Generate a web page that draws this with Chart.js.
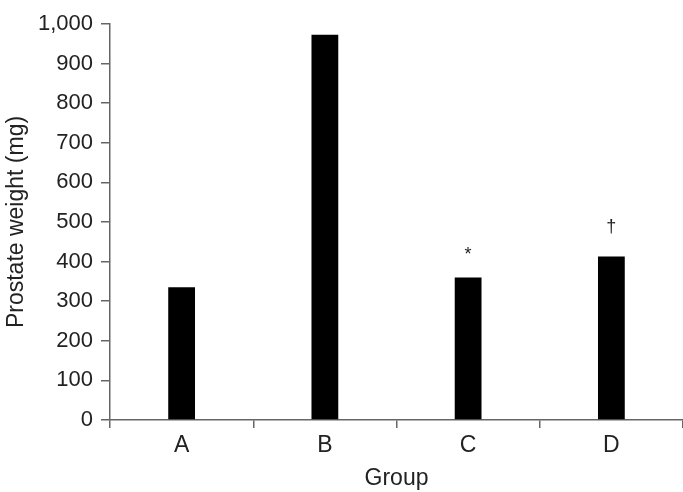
<!DOCTYPE html>
<html>
<head>
<meta charset="utf-8">
<script src="https://cdn.jsdelivr.net/npm/chart.js@4.4.1/dist/chart.umd.min.js"></script>
<style>
  html, body { margin: 0; padding: 0; background: #fff; }
  #wrap { width: 683px; height: 492px; position: relative; }
</style>
</head>
<body>
<div id="wrap"><canvas id="grafico"></canvas></div>
<script>
// Dados do gráfico
const grupos = ['A', 'B', 'C', 'D'];
const pesos = [335, 973, 360, 413];
const marcas = ['', '', '*', '\u2020'];
const yMin = 0;
const yMax = 1000;
const yPasso = 100;

const corTexto = '#222';
const corEixo = '#666';

// Desenha os símbolos (* e †) acima das barras
const marcasPlugin = {
    id: 'marcas',
    afterDatasetsDraw(chart) {
        const ctx = chart.ctx;
        const meta = chart.getDatasetMeta(0);
        ctx.save();
        ctx.fillStyle = corTexto;
        ctx.font = '18px "Liberation Sans", Arial, sans-serif';
        ctx.textAlign = 'center';
        ctx.textBaseline = 'middle';
        meta.data.forEach((bar, i) => {
            if (!marcas[i]) return;
            const off = marcas[i] === '*' ? 22 : 29;
            ctx.fillText(marcas[i], bar.x, bar.y - off);
        });
        ctx.restore();
    }
};

const ctx = document.getElementById('grafico').getContext('2d');
new Chart(ctx, {
    type: 'bar',
    data: {
        labels: grupos,
        datasets: [{
            data: pesos,
            backgroundColor: '#000',
            borderWidth: 0,
            barPercentage: 0.187,
            categoryPercentage: 1
        }]
    },
    options: {
        responsive: true,
        maintainAspectRatio: false,
        animation: false,
        layout: { padding: { top: 24, right: 0, left: 0, bottom: 0 } },
        plugins: {
            legend: { display: false },
            tooltip: { enabled: false }
        },
        scales: {
            x: {
                afterFit(scale) { scale.height = 72; },
                border: { color: corEixo, width: 1.5 },
                grid: {
                    offset: true,
                    drawOnChartArea: false,
                    drawTicks: true,
                    tickLength: 8,
                    color: corEixo,
                    lineWidth: 1.5
                },
                ticks: {
                    color: corTexto,
                    padding: 4,
                    font: { family: '"Liberation Sans", Arial, sans-serif', size: 23 }
                },
                title: {
                    display: true,
                    text: 'Group',
                    color: corTexto,
                    padding: { top: 0, bottom: 0 },
                    font: { family: '"Liberation Sans", Arial, sans-serif', size: 23 }
                }
            },
            y: {
                min: yMin,
                max: yMax,
                afterFit(scale) { scale.width = 110; },
                border: { color: corEixo, width: 1.5 },
                grid: {
                    drawOnChartArea: false,
                    drawTicks: true,
                    tickLength: 9,
                    color: corEixo,
                    lineWidth: 1.5
                },
                ticks: {
                    stepSize: yPasso,
                    color: corTexto,
                    padding: 8,
                    font: { family: '"Liberation Sans", Arial, sans-serif', size: 22 },
                    callback: function (valor) {
                        return valor.toLocaleString('en-US');
                    }
                },
                title: {
                    display: true,
                    text: 'Prostate weight (mg)',
                    color: corTexto,
                    padding: { top: 3, bottom: 0 },
                    font: { family: '"Liberation Sans", Arial, sans-serif', size: 23 }
                }
            }
        }
    },
    plugins: [marcasPlugin]
});
</script>
</body>
</html>
